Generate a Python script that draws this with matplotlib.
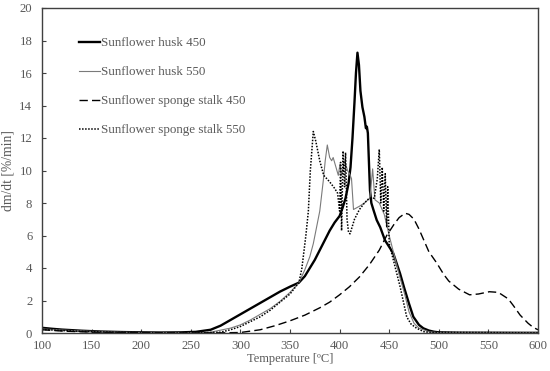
import matplotlib
matplotlib.use('Agg')
import matplotlib.pyplot as plt

plt.rcParams['font.family'] = ['Liberation Serif', 'DejaVu Serif']

# Sunflower husk 450
t_h450 = [100, 110, 120, 140, 160, 180, 200, 220, 240, 255, 270, 280, 290, 300, 310, 320,
          330, 340, 350, 359, 365, 370, 375, 380, 385, 390, 395, 400, 403, 406, 409, 411,
          413, 415, 416.5, 418, 419.5, 421, 423, 425, 426.5, 427.5, 428.5, 430.6, 432,
          434, 437.4, 441, 445.8, 450, 454.1, 460.9, 465, 470, 474.3, 480, 484.4, 490,
          495, 500, 520, 600]
v_h450 = [0.32, 0.26, 0.21, 0.14, 0.09, 0.06, 0.04, 0.03, 0.04, 0.07, 0.2, 0.45, 0.8,
          1.15, 1.5, 1.85, 2.2, 2.55, 2.85, 3.1, 3.5, 4.0, 4.5, 5.1, 5.7, 6.3, 6.8, 7.2,
          7.7, 8.3, 9.2, 10.2, 12.0, 14.2, 16.0, 17.25, 16.5, 14.9, 13.9, 13.3, 12.6,
          12.7, 12.3, 8.8, 8.0, 7.6, 6.95, 6.5, 5.7, 5.3, 4.9, 3.67, 2.8, 1.8, 1.0, 0.5,
          0.29, 0.15, 0.08, 0.04, 0.02, 0.01]

# Sunflower husk 550
t_h550 = [100, 120, 150, 180, 200, 230, 260, 270, 290, 300, 310, 320, 330, 340, 350, 359,
          365, 370, 373.5, 380, 383.6, 385.5, 387.6, 390, 392, 393.5, 395.4, 398.7, 400.4,
          402, 405, 408, 410, 412, 414, 417, 420, 425, 430.6, 433.3, 435.6, 440, 445, 450,
          455, 460, 466, 470, 475, 480, 490, 500, 600]
v_h550 = [0.25, 0.18, 0.1, 0.05, 0.03, 0.02, 0.02, 0.05, 0.3, 0.5, 0.8, 1.15, 1.5, 1.95,
          2.5, 3.1, 3.9, 4.7, 5.5, 7.5, 9.4, 10.6, 11.57, 10.8, 10.6, 10.8, 10.4, 9.7,
          10.4, 9.7, 10.6, 10.0, 9.8, 9.5, 7.6, 7.7, 7.8, 8.0, 8.3, 10.1, 8.2, 8.0, 7.3,
          6.0, 4.8, 3.6, 2.3, 1.3, 0.6, 0.3, 0.08, 0.02, 0.01]

# Sunflower sponge stalk 450
t_s450 = [100, 120, 150, 200, 250, 280, 300, 320, 335, 350, 365, 380, 390, 400, 410, 420,
          430, 440, 447.5, 455, 460, 466, 470, 475, 480, 485, 490, 498, 505, 510, 520, 531,
          540, 551, 560, 570, 575, 582, 590, 595, 600]
v_s450 = [0.2, 0.12, 0.05, 0.02, 0.01, 0.01, 0.03, 0.2, 0.45, 0.75, 1.1, 1.55, 1.9, 2.35,
          2.85, 3.45, 4.2, 5.1, 6.0, 6.7, 7.1, 7.37, 7.3, 7.0, 6.4, 5.7, 5.0, 4.3, 3.6,
          3.2, 2.7, 2.35, 2.4, 2.54, 2.5, 2.1, 1.7, 1.1, 0.6, 0.35, 0.2]

# Sunflower sponge stalk 550
t_s550 = [100, 120, 150, 180, 200, 230, 260, 280, 290, 300, 310, 320, 330, 340, 350, 359,
          362, 366, 368.5, 370.5, 373.5, 376, 380, 384, 390, 395, 398, 400, 401, 402, 403.5,
          405, 406, 407.5, 409, 410.5, 415, 420, 425, 430, 435, 438, 440, 441.5, 443,
          444.5, 446, 447.5, 448.5, 450, 455, 461, 467.6, 472, 477.7, 485, 490, 600]
v_s550 = [0.22, 0.15, 0.08, 0.04, 0.02, 0.01, 0.01, 0.05, 0.2, 0.4, 0.7, 1.0, 1.4, 1.9,
          2.4, 3.1, 4.0, 6.0, 7.5, 10.0, 12.4, 11.8, 10.6, 9.7, 9.3, 8.9, 8.6, 7.5, 10.5,
          6.3, 11.2, 9.0, 11.1, 7.0, 6.2, 6.1, 7.0, 7.6, 8.0, 8.3, 8.3, 9.5, 11.3, 8.0,
          10.2, 7.5, 9.8, 6.5, 9.0, 5.5, 4.3, 2.85, 1.0, 0.55, 0.29, 0.08, 0.04, 0.01]

fig = plt.figure(figsize=(5.5, 3.71), dpi=100)
ax = fig.add_axes([42 / 550, 1 - 333 / 371, 496 / 550, 325 / 371])

ax.plot(t_h450, v_h450, color='black', lw=1.7, label='Sunflower husk 450')
ax.plot(t_h550, v_h550, color='#7a7a7a', lw=0.8, label='Sunflower husk 550')
ax.plot(t_s450, v_s450, color='black', lw=1.0, ls=(0, (6, 3)), label='Sunflower sponge stalk 450')
ax.plot(t_s550, v_s550, color='black', lw=1.1, ls=(0, (1, 1)), label='Sunflower sponge stalk 550')

ax.set_xlim(100, 600)
ax.set_ylim(0, 20)
ax.set_xticks(range(100, 601, 50))
ax.set_yticks(range(0, 21, 2))

grey = '#595959'
ax.tick_params(axis='both', direction='in', length=3, colors='#404040', labelcolor=grey, labelsize=9.2)
ax.tick_params(axis='x', pad=5)
ax.tick_params(axis='y', pad=7)
for s in ax.spines.values():
    s.set_color('#404040')
    s.set_linewidth(1.0)

ax.set_xlabel('Temperature [ºC]', color=grey, fontsize=9, labelpad=1)
ax.set_ylabel('dm/dt [%/min]', color=grey, fontsize=9.8, va='center')
ax.yaxis.set_label_coords(-0.068, 0.5)

leg = ax.legend(loc='upper left', bbox_to_anchor=(0.064, 0.927), frameon=False, fontsize=9.4,
                handlelength=1.6, handletextpad=0.1, labelspacing=1.3, borderaxespad=0)
for txt in leg.get_texts():
    txt.set_color(grey)

fig.savefig('out.png', dpi=100)
